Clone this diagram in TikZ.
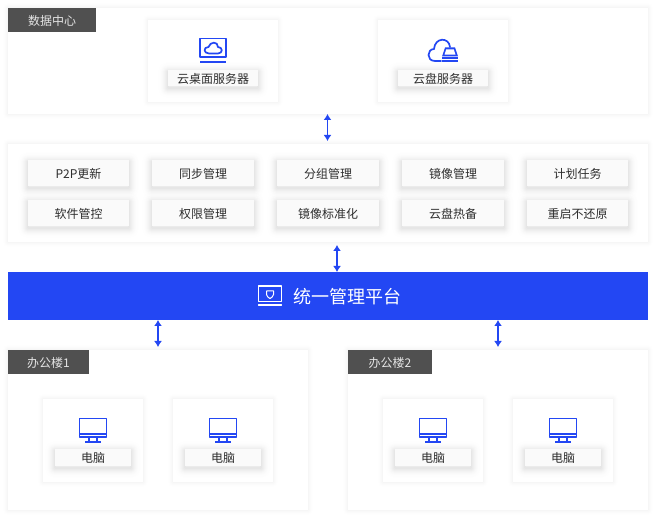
\documentclass[tikz,border=0pt]{standalone}
\usepackage{fontspec}
\setmainfont{Noto Sans CJK SC}
\usetikzlibrary{arrows.meta}
\definecolor{bandBlue}{RGB}{35,71,243}
\definecolor{tagGray}{RGB}{80,80,80}
\definecolor{labelText}{RGB}{45,45,45}
\tikzset{
  softLayer/.style args={#1/#2/#3}{preaction={draw=black, draw opacity=#2, line width=#1, line join=round, transform canvas={yshift=#3}}},
  softOne/.style={softLayer=10pt/0.004/0pt, softLayer=8pt/0.005/0pt, softLayer=6pt/0.006/0pt, softLayer=4pt/0.008/0pt, softLayer=2pt/0.01/0pt},
  softTwo/.style={softLayer=20pt/0.004/-2pt, softLayer=17pt/0.005/-2pt, softLayer=14pt/0.006/-2pt, softLayer=12pt/0.008/-2pt, softLayer=10pt/0.01/-2pt, softLayer=8pt/0.012/-2pt, softLayer=6pt/0.014/-2pt, softLayer=4pt/0.016/-2pt, softLayer=2pt/0.018/-2pt}
}
\tikzstyle{panelStyle}=[shape = rectangle, fill = white, inner sep = 0pt, softOne]
\tikzstyle{cardStyle}=[shape = rectangle, fill = white, inner sep = 0pt, softOne]
\tikzstyle{labelStyle}=[shape = rectangle, fill = white!98!black, inner sep = 0pt, minimum height = 16pt, softTwo, text = labelText, text height = 11.6pt, text depth = 1pt, font = \fontsize{12pt}{12pt}\selectfont]
\tikzstyle{itemStyle}=[labelStyle, minimum height = 26pt]
\tikzstyle{tagStyle}=[shape = rectangle, fill = tagGray, inner sep = 0pt, minimum height = 24pt, text = white!90!black, text height = 11.6pt, text depth = 1pt, font = \fontsize{12pt}{12pt}\selectfont]
\tikzstyle{linkStyle}=[draw = bandBlue, line width = 1.2pt, {Latex[length=6pt,width=8pt]}-{Latex[length=6pt,width=8pt]}]
\tikzstyle{iconStyle}=[draw = bandBlue, line width = 1.7pt, line join = round, line cap = round]
\tikzset{
  pics/deskIcon/.style={code={
    \draw[pic actions, line cap = butt] (-13,-11.5) rectangle (13,7);
    \draw[pic actions, line cap = butt] (-13,12) -- (13,12);
    \draw[pic actions] (-4,3.5) .. controls (-9.5,3.5) and (-10,-3) .. (-4.5,-3) .. controls (-3,-8.5) and (5,-9) .. (5,-3) .. controls (10,-3) and (10,3.5) .. (5,3.5) -- cycle;
  }},
  pics/diskIcon/.style={code={
    \draw[pic actions] (-2,10) -- (-8,10) .. controls (-17,10) and (-16,-2) .. (-9,-2) .. controls (-8,-14) and (6,-14) .. (7,-4);
    \fill[bandBlue] (-1,11.5) rectangle (15,9.5);
    \fill[bandBlue] (-1,8.5) rectangle (15,6.5);
    \fill[bandBlue] (-1,5.5) -- (2,-3.5) -- (12,-3.5) -- (15,5.5) -- cycle;
    \fill[white] (1.5,3.7) -- (3.3,-1.7) -- (10.7,-1.7) -- (12.5,3.7) -- cycle;
  }},
  pics/screenIcon/.style={code={
    \draw[pic actions, line width = 1.2pt, line cap = butt] (-13.5,-11.5) rectangle (13.5,7);
    \draw[pic actions, line width = 1.2pt, line cap = butt] (-13.5,4) -- (13.5,4);
    \draw[pic actions, line width = 1.2pt, line cap = butt] (-4,7) -- (-4,12) (4,7) -- (4,12);
    \draw[pic actions, line width = 1.2pt, line cap = butt] (-8,12) -- (8,12);
  }},
  pics/shieldIcon/.style={code={
    \draw[pic actions] (-11.5,-9.5) rectangle (11.5,6);
    \draw[pic actions] (-11.5,9.5) -- (11.5,9.5);
    \draw[pic actions, line width = 1pt] (-3.5,-4.5) -- (3.5,-4.5) -- (3.5,-1) .. controls (3.5,1) and (1,2.5) .. (0,3) .. controls (-1,2.5) and (-3.5,1) .. (-3.5,-1) -- cycle;
  }}
}
\begin{document}
\begin{tikzpicture}[x = 1pt, y = -1pt]
\useasboundingbox (0,0) rectangle (656,518);
\fill[white] (0,0) rectangle (656,518);
\node[panelStyle, minimum width = 640pt, minimum height = 106pt] (dataPanel) at (328,61) {};
\node[panelStyle, minimum width = 640pt, minimum height = 98pt] (funcPanel) at (328,193) {};
\node[shape = rectangle, fill = bandBlue, minimum width = 640pt, minimum height = 48pt, inner sep = 0pt] (mgmtBand) at (328,296) {};
\node[panelStyle, minimum width = 300pt, minimum height = 160pt] (officeA) at (158,430) {};
\node[panelStyle, minimum width = 300pt, minimum height = 160pt] (officeB) at (498,430) {};
\node[tagStyle, minimum width = 88pt] (dataTag) at (52,20) {数据中心};
\node[tagStyle, minimum width = 81pt] (officeATag) at (48.5,362) {办公楼1};
\node[tagStyle, minimum width = 84pt] (officeBTag) at (390,362) {办公楼2};
\node[cardStyle, minimum width = 130pt, minimum height = 82pt] (deskCard) at (213,61) {};
\node[cardStyle, minimum width = 130pt, minimum height = 82pt] (diskCard) at (443,61) {};
\node[labelStyle, minimum width = 90pt] (deskLabel) at (213,78) {云桌面服务器};
\node[labelStyle, minimum width = 90pt] (diskLabel) at (443,78) {云盘服务器};
\pic[iconStyle] at (213,50) {deskIcon};
\pic[iconStyle] at (443,51) {diskIcon};
\node[itemStyle, minimum width = 101pt] (itemA) at (78.5,173) {P2P更新};
\node[itemStyle, minimum width = 102pt] (itemB) at (203,173) {同步管理};
\node[itemStyle, minimum width = 102pt] (itemC) at (328,173) {分组管理};
\node[itemStyle, minimum width = 102pt] (itemD) at (453,173) {镜像管理};
\node[itemStyle, minimum width = 101pt] (itemE) at (577.5,173) {计划任务};
\node[itemStyle, minimum width = 101pt] (itemF) at (78.5,213) {软件管控};
\node[itemStyle, minimum width = 102pt] (itemG) at (203,213) {权限管理};
\node[itemStyle, minimum width = 102pt] (itemH) at (328,213) {镜像标准化};
\node[itemStyle, minimum width = 102pt] (itemI) at (453,213) {云盘热备};
\node[itemStyle, minimum width = 101pt] (itemJ) at (577.5,213) {重启不还原};
\pic[iconStyle, draw = white, line width = 1.1pt] at (270,295.5) {shieldIcon};
\node[text = white, font = \fontsize{18pt}{18pt}\selectfont, inner sep = 0pt, text height = 17pt, text depth = 1pt] (mgmtTitle) at (347,296) {统一管理平台};
\node[cardStyle, minimum width = 100pt, minimum height = 83pt] (pcCardA) at (93,440.5) {};
\node[cardStyle, minimum width = 100pt, minimum height = 83pt] (pcCardB) at (223,440.5) {};
\node[cardStyle, minimum width = 100pt, minimum height = 83pt] (pcCardC) at (433,440.5) {};
\node[cardStyle, minimum width = 100pt, minimum height = 83pt] (pcCardD) at (563,440.5) {};
\node[labelStyle, minimum width = 76pt, minimum height = 17pt] (pcLabelA) at (93,457.5) {电脑};
\node[labelStyle, minimum width = 76pt, minimum height = 17pt] (pcLabelB) at (223,457.5) {电脑};
\node[labelStyle, minimum width = 76pt, minimum height = 17pt] (pcLabelC) at (433,457.5) {电脑};
\node[labelStyle, minimum width = 76pt, minimum height = 17pt] (pcLabelD) at (563,457.5) {电脑};
\pic[iconStyle] at (93,430) {screenIcon};
\pic[iconStyle] at (223,430) {screenIcon};
\pic[iconStyle] at (433,430) {screenIcon};
\pic[iconStyle] at (563,430) {screenIcon};
\coordinate (linkAtop) at (327.5,114);
\coordinate (linkAbot) at (327.5,141);
\coordinate (linkBtop) at (337,245);
\coordinate (linkBbot) at (337,272);
\coordinate (linkCtop) at (158,320);
\coordinate (linkCbot) at (158,347);
\coordinate (linkDtop) at (498,320);
\coordinate (linkDbot) at (498,347);
\draw[linkStyle] (linkAtop) -- (linkAbot);
\draw[linkStyle] (linkBtop) -- (linkBbot);
\draw[linkStyle] (linkCtop) -- (linkCbot);
\draw[linkStyle] (linkDtop) -- (linkDbot);
\end{tikzpicture}
\end{document}
